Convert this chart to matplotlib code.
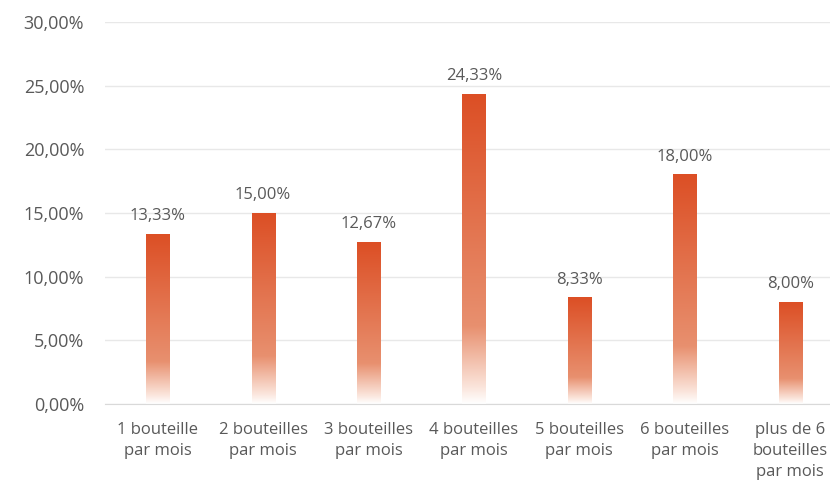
import numpy as np
import matplotlib
matplotlib.use("Agg")
import matplotlib.pyplot as plt
from matplotlib.colors import LinearSegmentedColormap

# data
categories = ["1 bouteille\npar mois", "2 bouteilles\npar mois", "3 bouteilles\npar mois",
              "4 bouteilles\npar mois", "5 bouteilles\npar mois", "6 bouteilles\npar mois",
              "plus de 6\nbouteilles\npar mois"]
values = [13.33, 15.00, 12.67, 24.33, 8.33, 18.00, 8.00]
yticks = [0, 5, 10, 15, 20, 25, 30]

plt.rcParams['font.family'] = ['Open Sans', 'DejaVu Sans']
text_color = '#595959'

# gradient: orange on top, white at the bottom
cmap = LinearSegmentedColormap.from_list(
    "grad", [(0.0, "#ffffff"), (0.05, "#fbe6dd"), (0.25, "#e8906f"), (1.0, "#dc4f25")])

fig = plt.figure(figsize=(8.3, 4.86), dpi=100)
ax = fig.add_axes([0.1265, 0.1687, 0.889, 0.786])

x = np.arange(len(categories))
width = 0.22
grad = np.linspace(0, 1, 256).reshape(-1, 1)

for xi, v in zip(x, values):
    ax.imshow(grad, cmap=cmap, origin='lower', aspect='auto',
              extent=(xi - width / 2, xi + width / 2, 0, v), zorder=2)
    ax.text(xi, v + 0.8, f"{v:.2f}".replace(".", ",") + "%", ha='center', va='bottom',
            fontsize=12, color=text_color)

ax.set_xlim(-0.5, len(categories) - 0.5)
ax.set_ylim(0, 30)
ax.set_yticks(yticks)
ax.set_yticklabels([f"{t},00%" for t in yticks], fontsize=13, color=text_color)
ax.set_xticks(x)
ax.set_xticklabels(categories, fontsize=12, color=text_color, linespacing=1.4)
ax.tick_params(axis='y', length=0, pad=15)
ax.tick_params(axis='x', length=0, pad=13)

ax.grid(axis='y', color='#e8e8e8', linewidth=1, zorder=0)
ax.set_axisbelow(True)
for s in ['top', 'right', 'left']:
    ax.spines[s].set_visible(False)
ax.spines['bottom'].set_color('#d9d9d9')

fig.savefig("out.png", dpi=100)
